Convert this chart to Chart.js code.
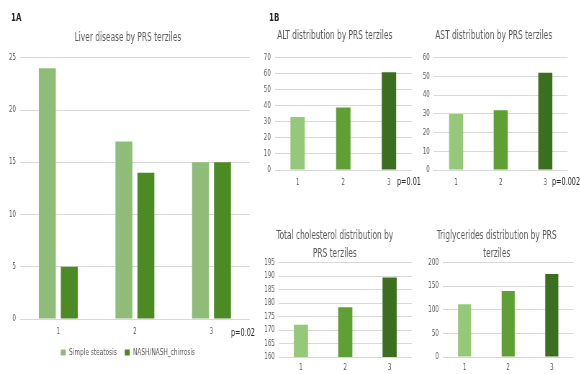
<!DOCTYPE html>
<html>
<head>
<meta charset="utf-8">
<script src="https://cdn.jsdelivr.net/npm/chart.js@4"></script>
<style>
  body { margin: 0; background: #fff; overflow: hidden; }
  /* the whole figure is laid out wide and squeezed horizontally */
  #page { position: relative; height: 374px; transform-origin: 0 0;
          font-family: "Liberation Sans Narrow", "DejaVu Sans Condensed", sans-serif; }
  canvas { position: absolute; }
  .tag { position: absolute; color: #262626; font-size: 11px; font-weight: bold; }
  .pval { position: absolute; color: #262626; font-size: 10px; white-space: nowrap; }
</style>
</head>
<body>
<div id="page">
  <div class="tag" id="tagA">1A</div>
  <div class="tag" id="tagB">1B</div>
  <canvas id="liverChart"></canvas>
  <canvas id="altChart"></canvas>
  <canvas id="astChart"></canvas>
  <canvas id="cholChart"></canvas>
  <canvas id="trigChart"></canvas>
  <div class="pval" id="pLiver">p=0.02</div>
  <div class="pval" id="pAlt">p=0.01</div>
  <div class="pval" id="pAst">p=0.002</div>
</div>
<script>
const terziles = ['1', '2', '3'];

// 1A: liver disease counts per PRS terzile
const steatosisCounts = [24, 17, 15];
const nashCounts = [5, 14, 15];

// 1B: mean lab values per PRS terzile
const altValues = [33, 39, 61];
const astValues = [30, 32, 52];
const cholValues = [172, 178.5, 189.5];
const trigValues = [112, 140, 176];

const terzileColors = ['#95c97a', '#5fa034', '#3b6f1f'];
const FONT = '"Liberation Sans Narrow", "DejaVu Sans Condensed", sans-serif';

// horizontal squeeze applied to the page
const SQUEEZE = 0.72;
const px = (v) => v / SQUEEZE;

const page = document.getElementById('page');
page.style.width = px(580) + 'px';
page.style.transform = `scaleX(${SQUEEZE})`;

function place(id, left, top) {
    const el = document.getElementById(id);
    el.style.left = px(left) + 'px';
    el.style.top = top + 'px';
}
place('tagA', 11, 11);
place('tagB', 269, 11);
place('pLiver', 231, 327);
place('pAlt', 397, 176);
place('pAst', 552, 176);

Chart.defaults.font.family = FONT;
Chart.defaults.color = '#595959';
Chart.defaults.animation = false;

function sizeCanvas(id, left, top, w, h) {
    const canvas = document.getElementById(id);
    const cw = Math.round(px(w));
    canvas.width = cw;
    canvas.height = h;
    canvas.style.width = cw + 'px';
    canvas.style.height = h + 'px';
    canvas.style.left = px(left) + 'px';
    canvas.style.top = top + 'px';
    return canvas;
}

function buildScales(cfg) {
    return {
        x: {
            grid: { display: false, drawTicks: false },
            border: { display: false },
            ticks: { font: { size: 8.5 }, padding: cfg.xPad },
            afterFit: (scale) => { scale.height = cfg.xHeight; }
        },
        y: {
            min: cfg.min,
            max: cfg.max,
            grid: { color: '#d9d9d9', drawTicks: false },
            border: { display: false },
            ticks: { stepSize: cfg.step, font: { size: 8.5 }, padding: px(4) },
            afterFit: (scale) => { scale.width = px(cfg.yWidth); }
        }
    };
}

function makeTerzileChart(id, cfg) {
    const canvas = sizeCanvas(id, cfg.left, cfg.top, cfg.w, cfg.h);
    return new Chart(canvas.getContext('2d'), {
        type: 'bar',
        data: {
            labels: terziles,
            datasets: [{
                data: cfg.values,
                backgroundColor: terzileColors,
                categoryPercentage: 1,
                barPercentage: cfg.barPct
            }]
        },
        options: {
            responsive: false,
            layout: { padding: { left: 0, right: px(cfg.right), top: 0, bottom: 0 } },
            plugins: {
                legend: { display: false },
                tooltip: { enabled: false },
                title: {
                    display: true,
                    text: cfg.title,
                    color: '#595959',
                    font: { size: 11.5, weight: 'normal', lineHeight: cfg.lineHeight || 1.2 },
                    padding: cfg.titlePad
                }
            },
            scales: buildScales(cfg)
        }
    });
}

// 1A grouped bars
const liverCanvas = sizeCanvas('liverChart', 0, 0, 258, 374);
new Chart(liverCanvas.getContext('2d'), {
    type: 'bar',
    data: {
        labels: terziles,
        datasets: [
            { label: 'Simple steatosis', data: steatosisCounts, backgroundColor: '#8fbc78',
              categoryPercentage: 0.574, barPercentage: 0.77 },
            { label: 'NASH/NASH_chirrosis', data: nashCounts, backgroundColor: '#4c8a24',
              categoryPercentage: 0.574, barPercentage: 0.77 }
        ]
    },
    options: {
        responsive: false,
        layout: { padding: { left: px(6), right: px(8), top: 0, bottom: 7 } },
        plugins: {
            tooltip: { enabled: false },
            title: {
                display: true,
                text: 'Liver disease by PRS terziles',
                color: '#595959',
                font: { size: 11.5, weight: 'normal' },
                padding: { top: 31, bottom: 13 }
            },
            legend: {
                position: 'bottom',
                labels: { boxWidth: px(5), boxHeight: 6, font: { size: 9 }, padding: 11, color: '#595959' }
            }
        },
        scales: buildScales({ min: 0, max: 25, step: 5, xHeight: 18, yWidth: 14, xPad: 8 })
    }
});

makeTerzileChart('altChart', {
    left: 258, top: 0, w: 162, h: 192, right: 8, values: altValues, barPct: 0.315,
    title: 'ALT distribution by PRS terziles', titlePad: { top: 29, bottom: 15 },
    min: 0, max: 70, step: 10, xHeight: 22, yWidth: 17, xPad: 8
});

makeTerzileChart('astChart', {
    left: 420, top: 0, w: 160, h: 192, right: 12, values: astValues, barPct: 0.315,
    title: 'AST distribution by PRS terziles', titlePad: { top: 29, bottom: 15 },
    min: 0, max: 60, step: 10, xHeight: 22, yWidth: 14, xPad: 8
});

makeTerzileChart('cholChart', {
    left: 258, top: 192, w: 162, h: 182, right: 8, values: cholValues, barPct: 0.32, lineHeight: 1.55,
    title: ['Total cholesterol distribution by', 'PRS terziles'], titlePad: { top: 35, bottom: 0 },
    min: 160, max: 195, step: 5, xHeight: 17, yWidth: 21, xPad: 6
});

makeTerzileChart('trigChart', {
    left: 420, top: 192, w: 160, h: 182, right: 6, values: trigValues, barPct: 0.3, lineHeight: 1.55,
    title: ['Triglycerides distribution by PRS', 'terziles'], titlePad: { top: 35, bottom: 0 },
    min: 0, max: 200, step: 50, xHeight: 17, yWidth: 23, xPad: 6
});
</script>
</body>
</html>
